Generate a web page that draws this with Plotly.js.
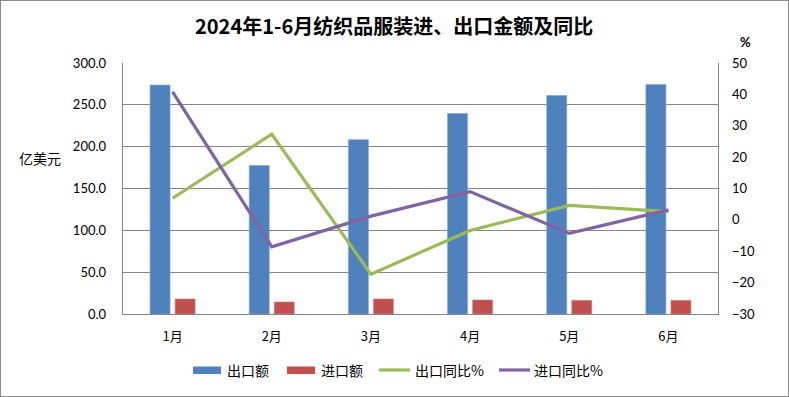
<!DOCTYPE html>
<html><head><meta charset="utf-8">
<script src="https://cdn.plot.ly/plotly-3.0.1.min.js"></script>
<style>html,body{margin:0;padding:0;background:#fff}#chart{width:789px;height:397px;box-sizing:border-box;border:1px solid #8c8c8c}</style>
</head><body><div id="chart"></div>
<script>
const months = ['1月','2月','3月','4月','5月','6月'];
const exportAmt = [273.6, 177.6, 208.4, 239.6, 261.2, 274.4];
const importAmt = [18.0, 14.4, 18.0, 16.8, 16.4, 16.4];
const exportYoY = [6.9, 27.3, -17.3, -3.4, 4.6, 2.6];
const importYoY = [40.8, -8.6, 1.2, 9.0, -4.3, 3.2];
const leftTicks = [0, 50, 100, 150, 200, 250, 300];
const leftTickText = ['0.0','50.0','100.0','150.0','200.0','250.0','300.0'];
const rightTicks = [-30, -20, -10, 0, 10, 20, 30, 40, 50];
const seriesNames = ['出口额','进口额','出口同比%','进口同比%'];
const seriesColors = ['#4f81bd','#c0504d','#9bbb59','#8064a2'];

const cjk = '"Noto Sans CJK SC", "Noto Sans", sans-serif';
const num = 'Lato, "Liberation Sans", sans-serif';

const data = [
  {type:'bar', name:seriesNames[0], x:months, y:exportAmt, marker:{color:seriesColors[0], line:{color:'#7ea4d6', width:0.6}}, yaxis:'y', showlegend:false},
  {type:'bar', name:seriesNames[1], x:months, y:importAmt, marker:{color:seriesColors[1], line:{color:'#d98886', width:0.6}}, yaxis:'y', showlegend:false},
  {type:'scatter', mode:'lines', name:seriesNames[2], x:months, y:exportYoY, line:{color:seriesColors[2], width:3.2}, yaxis:'y2', showlegend:false},
  {type:'scatter', mode:'lines', name:seriesNames[3], x:months, y:importYoY, line:{color:seriesColors[3], width:3.2}, yaxis:'y2', showlegend:false}
];

// custom legend (pixel layout converted to paper coords)
const W = 787, H = 395, ML = 122, MR = 70, MT = 62, MB = 82;
const PW = W - ML - MR, PH = H - MT - MB;
const px = v => (v - 1 - ML) / PW;
const py = v => (H - MB - (v - 1)) / PH;
const legItems = [
  {kind:'rect', x0:193, x1:221, tx:225},
  {kind:'rect', x0:287, x1:315, tx:319},
  {kind:'line', x0:379, x1:410, tx:413},
  {kind:'line', x0:499, x1:530, tx:532}
];
const legY = 370;
const shapes = [];
const annotations = [];
legItems.forEach((it, i) => {
  if (it.kind === 'rect') {
    shapes.push({type:'rect', xref:'paper', yref:'paper', x0:px(it.x0), x1:px(it.x1), y0:py(legY+4), y1:py(legY-3.5), fillcolor:seriesColors[i], line:{width:0}});
  } else {
    shapes.push({type:'line', xref:'paper', yref:'paper', x0:px(it.x0), x1:px(it.x1), y0:py(legY), y1:py(legY), line:{color:seriesColors[i], width:3.2}});
  }
  annotations.push({text:seriesNames[i], xref:'paper', yref:'paper', x:px(it.tx), y:py(legY), xanchor:'left', yanchor:'middle', showarrow:false, font:{family:cjk, size:14, color:'#000'}});
});
annotations.push({text:'亿美元', xref:'paper', yref:'paper', x:px(40), y:py(158), xanchor:'center', yanchor:'middle', showarrow:false, font:{family:cjk, size:14, color:'#000'}});
annotations.push({text:'<b>%</b>', xref:'paper', yref:'paper', x:px(745), y:py(42), xanchor:'center', yanchor:'middle', showarrow:false, font:{family:num, size:13, color:'#000'}});
annotations.push({text:'<b>2024年1-6月纺织品服装进、出口金额及同比</b>', xref:'paper', yref:'paper', x:px(394), y:py(26), xanchor:'center', yanchor:'middle', showarrow:false, font:{family:cjk, size:20, color:'#000'}});

const layout = {
  width:W, height:H,
  margin:{l:ML, r:MR, t:MT, b:MB, autoexpand:false},
  paper_bgcolor:'#fff', plot_bgcolor:'#fff',
  showlegend:false,
  barmode:'group', bargap:0.495, bargroupgap:0.2,
  xaxis:{type:'category', showgrid:false, showline:true, linecolor:'#868686', linewidth:1.3, ticks:'', tickfont:{family:cjk, size:13, color:'#000'}, ticklabelstandoff:10, fixedrange:true},
  yaxis:{range:[0,300], tickvals:leftTicks, ticktext:leftTickText, showgrid:true, gridcolor:'#868686', gridwidth:1.3, showline:true, linecolor:'#868686', linewidth:1.3, ticks:'', zeroline:false, tickfont:{family:num, size:13, color:'#000'}, ticklabelstandoff:13},
  yaxis2:{range:[-30,50], tickvals:rightTicks, overlaying:'y', side:'right', showgrid:false, showline:true, linecolor:'#868686', linewidth:1.3, ticks:'', zeroline:false, tickfont:{family:num, size:13, color:'#000'}, ticklabelstandoff:10},
  shapes:shapes,
  annotations:annotations
};
Plotly.newPlot('chart', data, layout, {displayModeBar:false, staticPlot:true});
</script></body></html>
